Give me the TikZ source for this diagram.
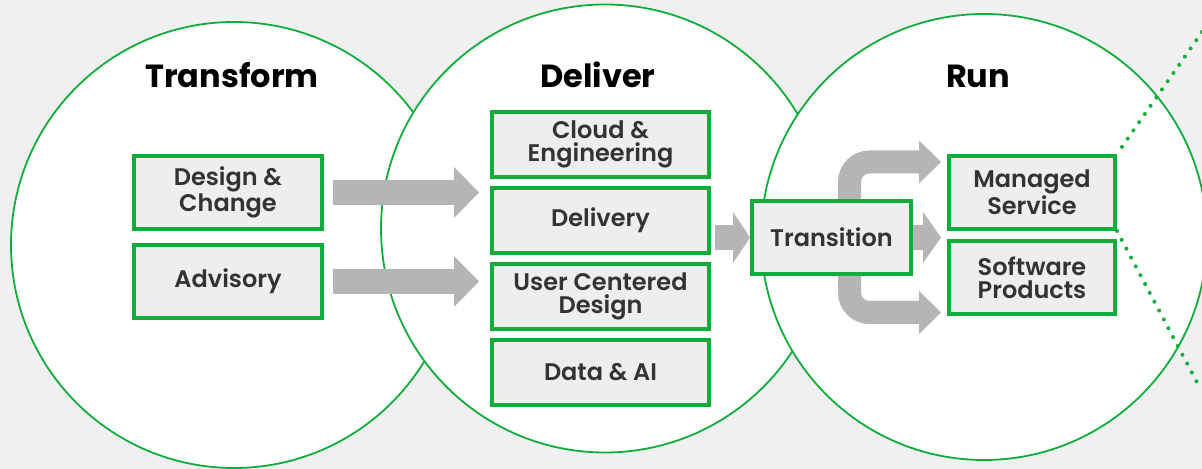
\documentclass[tikz,border=0pt]{standalone}
\usepackage{fontspec}
\setmainfont{Poppins}
\newfontfamily\boxfont{Poppins}[UprightFont=* SemiBold]
\newfontfamily\titlefont{Poppins}[UprightFont=* Bold]
\usetikzlibrary{positioning,arrows.meta}
\definecolor{ringgreen}{RGB}{16,172,60}
\definecolor{boxgray}{RGB}{238,238,238}
\definecolor{arrowgray}{RGB}{181,181,181}
\definecolor{pagegray}{RGB}{240,240,240}
\definecolor{boxtext}{RGB}{51,51,51}

\begin{document}
\begin{tikzpicture}[
x=0.5pt,
y=0.5pt,
ring/.style={
  draw=ringgreen,
  line width=0.9pt,
  fill=white
  },
phase/.style={
  font=\titlefont\fontsize{16}{18}\selectfont,
  anchor=base
  },
svcbox/.style={
  draw=ringgreen,
  line width=2pt,
  fill=boxgray,
  text=boxtext,
  font=\boxfont\fontsize{12}{11.5}\selectfont,
  align=center,
  inner sep=0pt,
  minimum height=36.5pt
  },
blockarrow/.style={
  draw=arrowgray,
  line width=12.5pt,
  -{Triangle[length=#1, width=25.5pt, line width=0pt]}
  },
blockarrow/.default=12.5pt,
bendarrow/.style={
  draw=arrowgray,
  line width=11.5pt,
  rounded corners=10pt,
  -{Triangle[length=11pt, width=21.5pt, line width=0pt]}
  },
dotline/.style={
  draw=ringgreen,
  line width=2pt,
  line cap=round,
  dash pattern=on 0pt off 5pt
  }
]

\useasboundingbox (0,0) rectangle (1202,469);
\fill[pagegray] (0,0) rectangle (1202,469);

\draw[ring] (234,224) circle[radius=223];
\draw[ring] (605,240.5) circle[radius=224];
\draw[ring] (984,232) circle[radius=223];

\node[phase] (ttransform) at (232,381) {Transform};
\node[phase] (tdeliver) at (598,381) {Deliver};
\node[phase] (trun) at (978,381) {Run};

% transform
\node[svcbox, minimum width=94pt] (dc) at (228,276.5) {Design \&\\Change};
\node[svcbox, minimum width=94pt, below=6pt of dc] (adv) {Advisory};

% deliver
\node[svcbox, minimum width=108.5pt, minimum height=32.5pt] (cloud) at (600.5,324.5) {Cloud \&\\Engineering};
\node[svcbox, minimum width=108.5pt, minimum height=32.5pt, below=3.5pt of cloud] (delivery) {Delivery};
\node[svcbox, minimum width=108.5pt, minimum height=32.5pt, below=3.5pt of delivery] (ucd) {User Centered\\Design};
\node[svcbox, minimum width=108.5pt, minimum height=32.5pt, below=3.5pt of ucd] (dai) {Data \& AI};

% run
\node[svcbox, minimum width=79.5pt] (tr) at (831.5,231.5) {Transition};
\node[svcbox, minimum width=83pt] (ms) at (1032,276.5) {Managed\\Service};
\node[svcbox, minimum width=83pt, below=4pt of ms] (sp) {Software\\Products};

\draw[blockarrow, shorten <=4.5pt, shorten >=5.5pt] (dc.east) -- (dc.east -| delivery.west);
\draw[blockarrow, shorten <=4.5pt, shorten >=5.5pt] (adv.east) -- (adv.east -| ucd.west);
\draw[blockarrow=8.5pt, shorten <=2pt] (delivery.east |- tr.west) -- (tr.west);
\draw[blockarrow=9pt, shorten >=3pt] (tr.east) -- (tr.east -| ms.west);
\draw[bendarrow, shorten >=3pt] ([xshift=9pt]tr.north) |- ([yshift=15.25pt]ms.west);
\draw[bendarrow, shorten >=3pt] ([xshift=9pt]tr.south) |- ([yshift=-17.5pt]sp.west);

\coordinate (dtop) at (1202,437);
\coordinate (dbot) at (1200,81);
\draw[dotline] (dtop) -- (ms.north east);
\draw[dotline] (ms.south east) -- (dbot);
\end{tikzpicture}
\end{document}
